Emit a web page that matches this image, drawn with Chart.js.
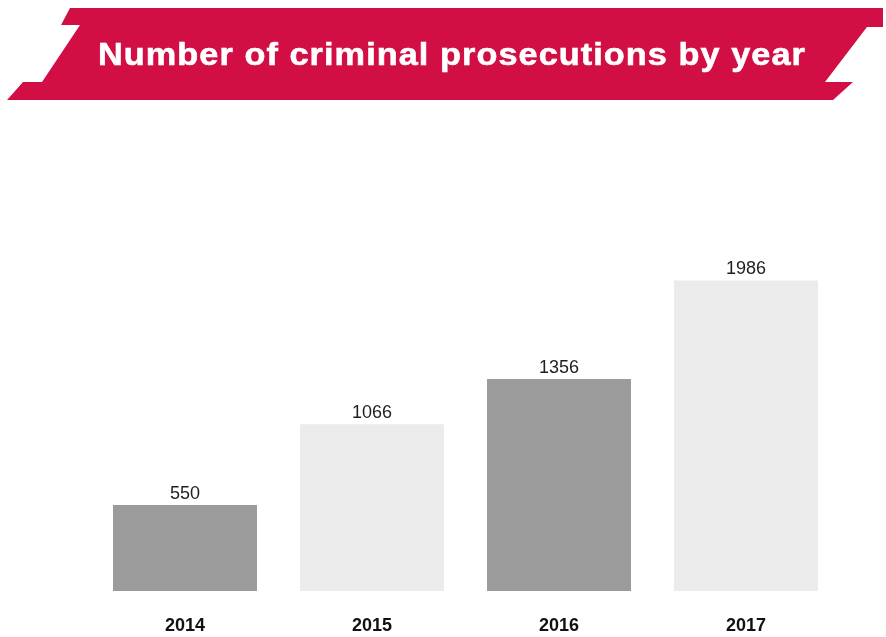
<!DOCTYPE html>
<html>
<head>
<meta charset="utf-8">
<title>Number of criminal prosecutions by year</title>
<script src="https://cdn.jsdelivr.net/npm/chart.js@4/dist/chart.umd.min.js"></script>
<style>
  html, body { margin: 0; padding: 0; background: #ffffff; }
  #wrap { width: 886px; height: 637px; }
</style>
</head>
<body>
<div id="wrap"><canvas id="chart" width="886" height="637"></canvas></div>
<script>
// Chart data
const years = ['2014', '2015', '2016', '2017'];
const prosecutions = [550, 1066, 1356, 1986];
const barColors = ['#9b9b9b', '#ebebeb', '#9b9b9b', '#ebebeb'];
const titleText = 'Number of criminal prosecutions by year';

// Red ribbon banner with the title, painted behind the chart
const bannerPlugin = {
  id: 'banner',
  beforeDraw(chart) {
    const ctx = chart.ctx;
    ctx.save();
    ctx.fillStyle = '#d20f45';
    ctx.beginPath();
    ctx.moveTo(70, 8);
    ctx.lineTo(883, 8);
    ctx.lineTo(883, 27);
    ctx.lineTo(867, 27);
    ctx.lineTo(825, 82);
    ctx.lineTo(853, 82);
    ctx.lineTo(833, 100);
    ctx.lineTo(7, 100);
    ctx.lineTo(23, 82);
    ctx.lineTo(42, 82);
    ctx.lineTo(80, 25);
    ctx.lineTo(61, 25);
    ctx.closePath();
    ctx.fill();

    // Title: heavy, wide lettering spanning the ribbon
    ctx.fillStyle = '#ffffff';
    ctx.font = 'bold 32px "Liberation Sans", Arial, sans-serif';
    ctx.textAlign = 'left';
    ctx.textBaseline = 'alphabetic';
    if ('letterSpacing' in ctx) ctx.letterSpacing = '1px';
    const w = ctx.measureText(titleText).width;
    const targetW = 708;
    const sx = targetW / w;
    ctx.translate(98, 65);
    ctx.scale(sx, 1);
    ctx.lineWidth = 0.6;
    ctx.strokeStyle = '#ffffff';
    ctx.fillText(titleText, 0, 0);
    ctx.strokeText(titleText, 0, 0);
    ctx.restore();
  }
};

// Value labels above each bar
const valueLabelPlugin = {
  id: 'valueLabels',
  afterDatasetsDraw(chart) {
    const ctx = chart.ctx;
    const meta = chart.getDatasetMeta(0);
    ctx.save();
    ctx.fillStyle = '#1e1e1e';
    ctx.font = '18px "Liberation Sans", Arial, sans-serif';
    ctx.textAlign = 'center';
    ctx.textBaseline = 'alphabetic';
    meta.data.forEach((bar, i) => {
      ctx.fillText(String(prosecutions[i]), bar.x, bar.y - 6);
    });
    ctx.restore();
  }
};

new Chart(document.getElementById('chart'), {
  type: 'bar',
  data: {
    labels: years,
    datasets: [{
      data: prosecutions,
      backgroundColor: barColors,
      borderWidth: 0,
      categoryPercentage: 1,
      barPercentage: 0.77
    }]
  },
  options: {
    responsive: false,
    animation: false,
    layout: { padding: { left: 91.5, right: 46.5, top: 200, bottom: 0 } },
    plugins: {
      legend: { display: false },
      tooltip: { enabled: false },
      title: { display: false }
    },
    scales: {
      x: {
        grid: { display: false, drawTicks: false },
        border: { display: false },
        ticks: {
          color: '#111111',
          padding: 24,
          font: { family: '"Liberation Sans", Arial, sans-serif', size: 18, weight: 'bold' }
        },
        afterFit(scale) { scale.height = 46; }
      },
      y: {
        display: false,
        min: 0,
        max: 2500,
        grid: { display: false }
      }
    }
  },
  plugins: [bannerPlugin, valueLabelPlugin]
});
</script>
</body>
</html>
